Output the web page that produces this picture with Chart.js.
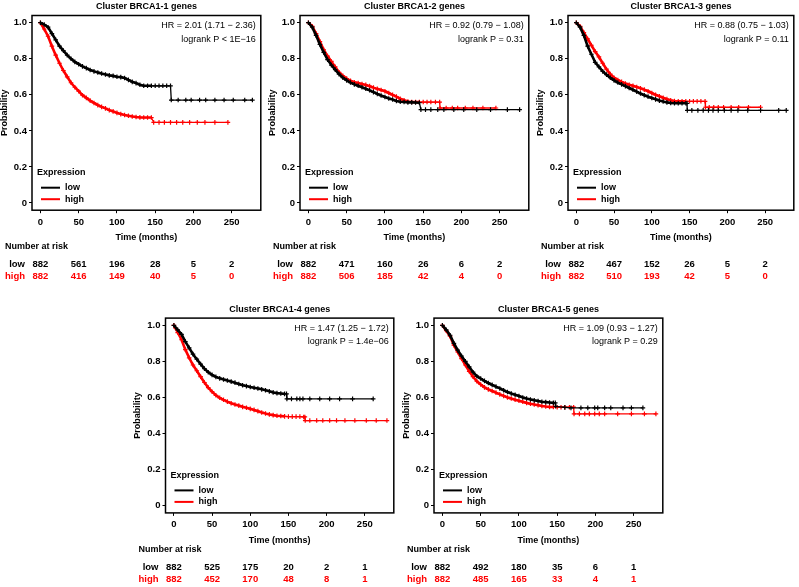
<!DOCTYPE html>
<html>
<head>
<meta charset="utf-8">
<script src="https://cdn.jsdelivr.net/npm/chart.js@4/dist/chart.umd.min.js"></script>
<style>
  body { margin: 0; background: #fff; }
  #wrap { position: relative; width: 799px; height: 587px; overflow: hidden; }
  canvas { position: absolute; }
</style>
</head>
<body>
<div id="wrap"></div>
<script>
// ---- data ----
const titles = ["Cluster BRCA1-1 genes", "Cluster BRCA1-2 genes", "Cluster BRCA1-3 genes", "Cluster BRCA1-4 genes", "Cluster BRCA1-5 genes"];
const hrLines = ["HR = 2.01 (1.71 \u2212 2.36)", "HR = 0.92 (0.79 \u2212 1.08)", "HR = 0.88 (0.75 \u2212 1.03)", "HR = 1.47 (1.25 \u2212 1.72)", "HR = 1.09 (0.93 \u2212 1.27)"];
const pLines = ["logrank P < 1E\u221216", "logrank P = 0.31", "logrank P = 0.11", "logrank P = 1.4e\u221206", "logrank P = 0.29"];
const groups = ["low", "high"];
const xTicks = [0, 50, 100, 150, 200, 250];
const yTicks = [0, 0.2, 0.4, 0.6, 0.8, 1.0];
const riskTimes = [0, 50, 100, 150, 200, 250];

// survival curves: [months, probability]
const p1Low = [[0,1.0],[5,.99],[10,.975],[15,.94],[20,.905],[25,.87],[30,.845],[35,.82],[40,.80],[45,.783],[50,.77],[55,.758],[60,.748],[65,.738],[70,.73],[75,.724],[80,.718],[85,.713],[90,.708],[95,.705],[100,.70],[105,.698],[110,.693],[115,.683],[120,.672],[125,.665],[130,.656],[135,.65],[140,.65],[145,.65],[150,.65],[155,.65],[160,.65],[165,.65],[170,.65],[171,.571],[180,.571],[190,.571],[197,.571],[208,.571],[216,.571],[228,.571],[240,.571],[252,.571],[267,.571],[277,.571]];
const p1High = [[0,1.0],[5,.965],[10,.925],[15,.87],[20,.82],[25,.775],[30,.735],[35,.70],[40,.667],[45,.642],[50,.62],[55,.598],[60,.583],[65,.568],[70,.555],[75,.543],[80,.533],[85,.525],[90,.515],[95,.508],[100,.50],[105,.493],[110,.488],[115,.484],[120,.48],[125,.477],[130,.475],[135,.474],[140,.474],[145,.474],[148,.447],[155,.447],[162,.447],[170,.447],[178,.447],[186,.447],[195,.447],[205,.447],[215,.447],[228,.447],[245,.447]];
const p2Low = [[0,1.0],[5,.975],[10,.93],[15,.88],[20,.835],[25,.795],[30,.765],[35,.74],[40,.715],[45,.695],[50,.68],[55,.668],[60,.658],[65,.65],[70,.642],[75,.634],[80,.625],[85,.615],[90,.605],[95,.596],[100,.588],[105,.58],[110,.574],[115,.566],[120,.562],[125,.56],[130,.558],[135,.558],[140,.557],[145,.556],[147,.518],[153,.518],[160,.518],[169,.518],[177,.518],[190,.518],[203,.518],[220,.518],[238,.518],[260,.518],[276,.518]];
const p2High = [[0,1.0],[5,.98],[10,.94],[15,.895],[20,.85],[25,.815],[30,.785],[35,.755],[40,.725],[45,.705],[50,.69],[55,.678],[60,.67],[65,.665],[70,.66],[75,.655],[80,.648],[85,.64],[90,.633],[95,.627],[100,.62],[105,.61],[110,.60],[115,.59],[120,.578],[125,.57],[130,.563],[135,.56],[140,.56],[145,.56],[150,.56],[155,.56],[160,.56],[166,.56],[171.5,.56],[172,.527],[180,.527],[188,.527],[195,.527],[205,.527],[215,.527],[228,.527],[245,.527]];
const p3Low = [[0,1.0],[5,.975],[10,.93],[15,.87],[20,.825],[25,.78],[30,.755],[35,.73],[40,.712],[45,.695],[50,.68],[55,.668],[60,.658],[65,.648],[70,.638],[75,.628],[80,.618],[85,.607],[90,.598],[95,.59],[100,.582],[105,.575],[110,.568],[115,.563],[120,.558],[125,.555],[130,.553],[135,.553],[140,.553],[145,.553],[146.5,.553],[147,.514],[153,.514],[161,.514],[168,.514],[175,.514],[181,.514],[188,.514],[196,.514],[205,.514],[214,.514],[227,.514],[244,.514],[268,.514],[278,.514]];
const p3High = [[0,1.0],[5,.98],[10,.945],[15,.91],[20,.875],[25,.84],[30,.81],[35,.775],[40,.742],[45,.715],[50,.695],[55,.682],[60,.672],[65,.663],[70,.656],[75,.65],[80,.643],[85,.636],[90,.629],[95,.62],[100,.61],[105,.60],[110,.592],[115,.584],[120,.576],[125,.57],[130,.565],[135,.564],[140,.564],[145,.564],[150,.564],[155,.564],[160,.564],[165,.564],[170.5,.564],[171,.531],[176,.531],[182,.531],[188,.531],[195,.531],[205,.531],[215,.531],[228,.531],[244,.531]];
const p4Low = [[0,1.0],[5,.975],[10,.95],[15,.91],[20,.875],[25,.84],[30,.812],[35,.785],[40,.76],[45,.74],[50,.725],[55,.714],[60,.706],[65,.70],[70,.694],[75,.688],[80,.682],[85,.675],[90,.668],[95,.663],[100,.658],[105,.654],[110,.65],[115,.645],[120,.64],[125,.634],[130,.628],[135,.624],[140,.622],[145,.62],[147.5,.62],[148,.592],[154,.592],[161,.592],[165,.592],[169,.592],[178,.592],[191,.592],[204,.592],[217,.592],[234,.592],[261,.592]];
const p4High = [[0,1.0],[2,.985],[5,.96],[10,.92],[15,.865],[20,.82],[25,.78],[30,.748],[35,.715],[40,.683],[45,.655],[50,.632],[55,.612],[60,.598],[65,.587],[70,.577],[75,.568],[80,.561],[85,.555],[90,.548],[95,.543],[100,.537],[105,.531],[110,.524],[115,.517],[120,.511],[125,.506],[130,.502],[135,.499],[140,.497],[145,.495],[150,.494],[155,.494],[160,.494],[165,.494],[170,.492],[171.5,.492],[172,.472],[178,.472],[187,.472],[195,.472],[204,.472],[213,.472],[224,.472],[237,.472],[252,.472],[265,.472],[279,.472]];
const p5Low = [[0,1.0],[5,.975],[10,.945],[15,.9],[20,.862],[25,.83],[30,.8],[35,.77],[40,.74],[45,.718],[50,.705],[55,.692],[60,.68],[65,.67],[70,.66],[75,.65],[80,.64],[85,.63],[90,.622],[95,.615],[100,.608],[105,.6],[110,.594],[115,.589],[120,.584],[125,.58],[130,.576],[135,.574],[140,.572],[145,.57],[147.5,.57],[148,.551],[160,.545],[168,.542],[181,.542],[190,.542],[199,.542],[203,.542],[212,.542],[220,.542],[236,.542],[247,.542],[262,.542]];
const p5High = [[0,1.0],[5,.97],[10,.94],[15,.89],[20,.852],[25,.815],[30,.78],[35,.745],[40,.715],[45,.69],[50,.672],[55,.656],[60,.645],[65,.636],[70,.627],[75,.617],[80,.609],[85,.60],[90,.594],[95,.588],[100,.582],[105,.576],[110,.57],[115,.565],[120,.561],[125,.557],[130,.553],[135,.55],[140,.548],[145,.547],[150,.546],[155,.546],[160,.546],[166,.546],[171.5,.546],[172,.509],[179,.509],[186,.509],[192,.509],[199,.509],[205,.509],[212,.509],[229,.509],[247,.509],[264,.509],[279,.509]];

// number at risk at riskTimes
const p1RiskLow = [882, 561, 196, 28, 5, 2];
const p1RiskHigh = [882, 416, 149, 40, 5, 0];
const p2RiskLow = [882, 471, 160, 26, 6, 2];
const p2RiskHigh = [882, 506, 185, 42, 4, 0];
const p3RiskLow = [882, 467, 152, 26, 5, 2];
const p3RiskHigh = [882, 510, 193, 42, 5, 0];
const p4RiskLow = [882, 525, 175, 20, 2, 1];
const p4RiskHigh = [882, 452, 170, 48, 8, 1];
const p5RiskLow = [882, 492, 180, 35, 6, 1];
const p5RiskHigh = [882, 485, 165, 33, 4, 1];

// ---- layout ----
const colors = ["#000000", "#ff0000"];
const FONT = '"Liberation Sans", Arial, sans-serif';
Chart.defaults.font.family = FONT;

const panels = [
  { left: 0,   top: 0,   w: 266, yW: 32,   padR: 4.5, padT: 15.5, padB: 40.8, curves: [p1Low, p1High], risk: [p1RiskLow, p1RiskHigh] },
  { left: 268, top: 0,   w: 266, yW: 32,   padR: 4,   padT: 15.5, padB: 40.8, curves: [p2Low, p2High], risk: [p2RiskLow, p2RiskHigh] },
  { left: 536, top: 0,   w: 263, yW: 32,   padR: 1,   padT: 15.5, padB: 40.8, curves: [p3Low, p3High], risk: [p3RiskLow, p3RiskHigh] },
  { left: 133, top: 300, w: 266, yW: 32.5, padR: 4,   padT: 18.1, padB: 38.1, curves: [p4Low, p4High], risk: [p4RiskLow, p4RiskHigh] },
  { left: 402, top: 300, w: 266, yW: 32,   padR: 4,   padT: 18.1, padB: 38.1, curves: [p5Low, p5High], risk: [p5RiskLow, p5RiskHigh] },
];
const H = 287;

function makeDecor(i, p) {
  return {
    id: 'kmDecor' + i,
    afterDraw(chart) {
      const { ctx, chartArea: a } = chart;
      const x = chart.scales.x;
      ctx.save();
      ctx.strokeStyle = '#000';
      ctx.lineWidth = 1.5;
      ctx.strokeRect(a.left, a.top, a.right - a.left, a.bottom - a.top);

      ctx.fillStyle = '#000';
      ctx.textBaseline = 'middle';
      ctx.font = 'bold 9px ' + FONT;
      ctx.textAlign = 'center';
      ctx.fillText(titles[i], (a.left + a.right) / 2, a.top - 8.5);

      ctx.font = '9px ' + FONT;
      ctx.textAlign = 'right';
      ctx.fillText(hrLines[i], a.right - 5, a.top + 10.5);
      ctx.fillText(pLines[i], a.right - 5, a.top + 23.8);

      // legend
      ctx.font = 'bold 9px ' + FONT;
      ctx.textAlign = 'left';
      ctx.fillText('Expression', a.left + 5, a.bottom - 37.5);
      groups.forEach((g, k) => {
        const y = a.bottom - 22.5 + k * 11.5;
        ctx.strokeStyle = colors[k];
        ctx.lineWidth = 2;
        ctx.beginPath();
        ctx.moveTo(a.left + 9, y);
        ctx.lineTo(a.left + 28, y);
        ctx.stroke();
        ctx.fillStyle = '#000';
        ctx.fillText(g, a.left + 33, y);
      });

      // number at risk
      ctx.font = 'bold 9px ' + FONT;
      ctx.fillStyle = '#000';
      ctx.textAlign = 'left';
      ctx.fillText('Number at risk', a.left - 27, a.bottom + 36.5);
      ctx.font = 'bold 9.5px ' + FONT;
      p.risk.forEach((row, k) => {
        const y = a.bottom + 54 + k * 12.6;
        ctx.fillStyle = colors[k];
        ctx.textAlign = 'right';
        ctx.fillText(groups[k], a.left - 7, y);
        ctx.textAlign = 'center';
        row.forEach((n, j) => ctx.fillText(String(n), x.getPixelForValue(riskTimes[j]), y));
      });
      ctx.restore();
    }
  };
}

const wrap = document.getElementById('wrap');
panels.forEach((p, i) => {
  const cv = document.createElement('canvas');
  cv.width = p.w;
  cv.height = H;
  cv.style.left = p.left + 'px';
  cv.style.top = p.top + 'px';
  cv.style.width = p.w + 'px';
  cv.style.height = H + 'px';
  wrap.appendChild(cv);

  const datasets = p.curves.map((c, k) => ({
    label: groups[k],
    data: c.map(d => ({ x: d[0], y: d[1] })),
    borderColor: colors[k],
    backgroundColor: colors[k],
    borderWidth: 1.3,
    // dense censoring in the early part makes the reference curves look heavy
    segment: { borderWidth: s => (s.p1.parsed.x <= 145 ? 2.6 : 1.3) },
    tension: 0,
    fill: false,
    pointStyle: 'cross',
    pointRadius: 2.3,
    pointBorderWidth: 1.2,
    pointBorderColor: colors[k],
  }));

  new Chart(cv, {
    type: 'line',
    data: { datasets },
    options: {
      responsive: false,
      animation: false,
      events: [],
      layout: { padding: { left: 0, right: p.padR, top: p.padT, bottom: p.padB } },
      plugins: { legend: { display: false }, tooltip: { enabled: false }, title: { display: false } },
      scales: {
        x: {
          type: 'linear',
          min: -11,
          max: 288,
          afterFit: s => { s.height = 36; },
          afterBuildTicks: s => { s.ticks = xTicks.map(v => ({ value: v })); },
          grid: { drawOnChartArea: false, drawTicks: true, tickLength: 3, color: '#000', lineWidth: 1 },
          border: { display: false },
          ticks: { color: '#000', font: { size: 9.5, weight: 'bold' }, padding: 3, maxRotation: 0, autoSkip: false },
          title: { display: true, text: 'Time (months)', color: '#000', font: { size: 9, weight: 'bold' }, padding: { top: 0, bottom: 2.8 } }
        },
        y: {
          type: 'linear',
          min: -0.04,
          max: 1.04,
          afterFit: s => { s.width = p.yW; },
          afterBuildTicks: s => { s.ticks = yTicks.map(v => ({ value: v })); },
          grid: { drawOnChartArea: false, drawTicks: true, tickLength: 3, color: '#000', lineWidth: 1 },
          border: { display: false },
          ticks: { color: '#000', font: { size: 9.5, weight: 'bold' }, padding: 2, autoSkip: false,
                   callback: v => v === 0 ? '0' : v.toFixed(1) },
          title: { display: true, text: 'Probability', color: '#000', font: { size: 9, weight: 'bold' }, padding: { top: -1, bottom: 0 } }
        }
      }
    },
    plugins: [makeDecor(i, p)]
  });
});
</script>
</body>
</html>
